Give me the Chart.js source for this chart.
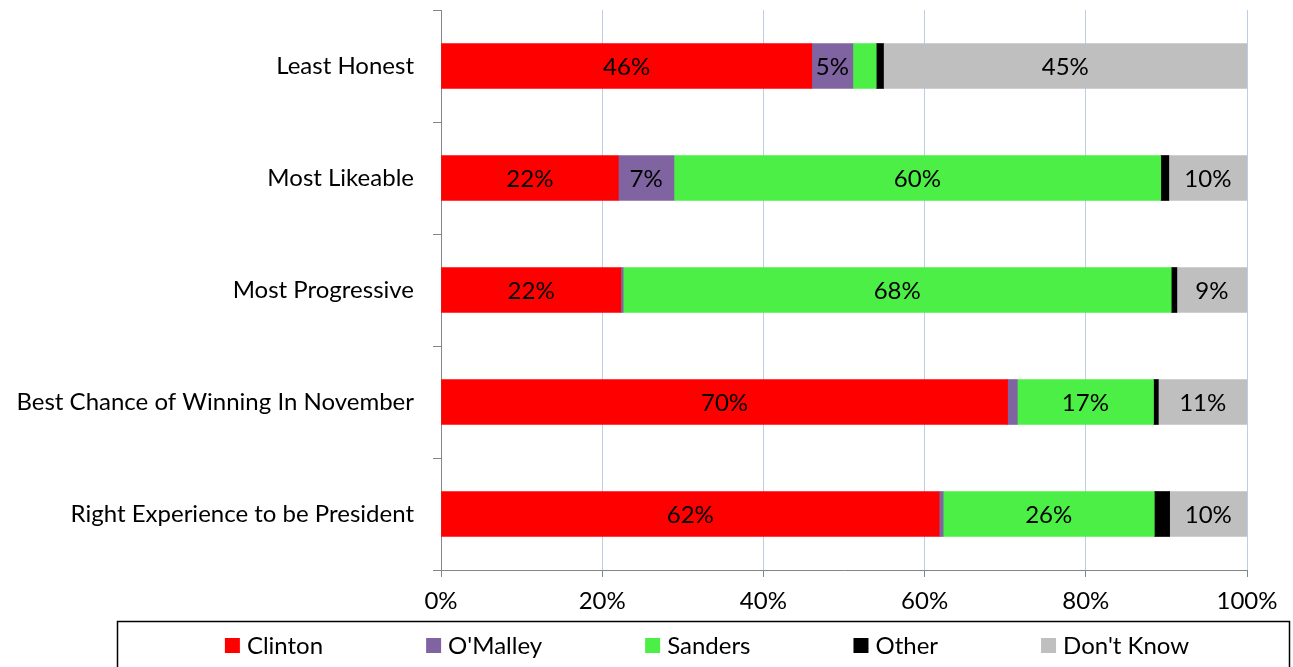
<!DOCTYPE html>
<html>
<head>
<meta charset="utf-8">
<script src="https://cdn.jsdelivr.net/npm/chart.js@4/dist/chart.umd.min.js"></script>
<style>
html,body{margin:0;padding:0;background:#fff;}
#wrap{width:1293px;height:667px;position:relative;}
</style>
</head>
<body>
<div id="wrap"><canvas id="c" width="1293" height="667"></canvas></div>
<script>
const categories = ["Least Honest","Most Likeable","Most Progressive","Best Chance of Winning In November","Right Experience to be President"];
const clinton  = [46, 22, 22.3, 70.3, 61.8];
const omalley  = [5.1, 6.9, 0.3, 1.2, 0.5];
const sanders  = [2.9, 60.4, 68, 16.9, 26.2];
const other    = [0.9, 1.0, 0.7, 0.6, 1.9];
const dontKnow = [45.1, 9.7, 8.7, 11.0, 9.6];
const xTicks = [0, 20, 40, 60, 80, 100];
const seriesNames = ["Clinton","O'Malley","Sanders","Other","Don't Know"];
const seriesColors = ["#ff0000","#8064a2","#4cef46","#000000","#bfbfbf"];

const FONT = "Lato, 'Open Sans', sans-serif";
const FS = 24;
Chart.defaults.font.family = FONT;
Chart.defaults.font.size = FS;
Chart.defaults.color = "#000";

const seriesData = [clinton, omalley, sanders, other, dontKnow];

const labelPlugin = {
  id: 'segLabels',
  afterDatasetsDraw(chart) {
    const ctx = chart.ctx;
    ctx.save();
    ctx.font = FS + "px " + FONT;
    ctx.fillStyle = "#000";
    ctx.textAlign = "center";
    ctx.textBaseline = "middle";
    chart.data.datasets.forEach((ds, di) => {
      const meta = chart.getDatasetMeta(di);
      meta.data.forEach((bar, i) => {
        const v = ds.data[i];
        if (v < 4.5) return;
        const cx = (bar.x + bar.base) / 2;
        ctx.fillText(Math.round(v) + "%", cx, bar.y + 1);
      });
    });
    ctx.restore();
  }
};

const legendPlugin = {
  id: 'boxLegend',
  afterDraw(chart) {
    const ctx = chart.ctx;
    ctx.save();
    ctx.strokeStyle = "#000";
    ctx.lineWidth = 1.5;
    ctx.strokeRect(117.5, 621.5, 1172, 60);
    ctx.font = FS + "px " + FONT;
    ctx.textBaseline = "middle";
    ctx.textAlign = "left";
    const box = 15, gapText = 7, gap = 103;
    const widths = seriesNames.map(n => box + gapText + ctx.measureText(n).width);
    const total = widths.reduce((a,b)=>a+b,0) + gap*(widths.length-1);
    let x = 117 + (1172 - total) / 2 + 4;
    const y = 645;
    seriesNames.forEach((n, i) => {
      ctx.fillStyle = seriesColors[i];
      ctx.fillRect(x, y - 7, box, box);
      ctx.fillStyle = "#000";
      ctx.fillText(n, x + box + gapText, y + 1);
      x += widths[i] + gap;
    });
    ctx.restore();
  }
};

new Chart(document.getElementById('c'), {
  type: 'bar',
  data: {
    labels: categories,
    datasets: seriesNames.map((n, i) => ({
      label: n,
      data: seriesData[i],
      backgroundColor: seriesColors[i],
      borderWidth: 0,
      barThickness: 45
    }))
  },
  options: {
    indexAxis: 'y',
    responsive: false,
    animation: false,
    layout: { padding: { top: 10, right: 46, left: 0, bottom: 0 } },
    plugins: { legend: { display: false }, tooltip: { enabled: false } },
    scales: {
      x: {
        stacked: true,
        min: 0, max: 100,
        afterBuildTicks(scale) { scale.ticks = xTicks.map(v => ({ value: v })); },
        ticks: { callback: v => v + "%", padding: 10, font: { size: FS } },
        grid: { color: "#b9cde5", lineWidth: 1, tickColor: "#868686", tickLength: 7, drawTicks: true },
        border: { color: "#868686", width: 1 },
        afterFit(scale) { scale.height = 97; scale.paddingLeft = 0; scale.paddingRight = 0; }
      },
      y: {
        stacked: true,
        ticks: { padding: 19, font: { size: FS } },
        grid: { offset: true, drawOnChartArea: false, tickColor: "#868686", tickLength: 8 },
        border: { color: "#868686", width: 1 },
        afterFit(scale) { scale.width = 441; scale.paddingTop = 0; scale.paddingBottom = 0; }
      }
    }
  },
  plugins: [labelPlugin, legendPlugin]
});
</script>
</body>
</html>
